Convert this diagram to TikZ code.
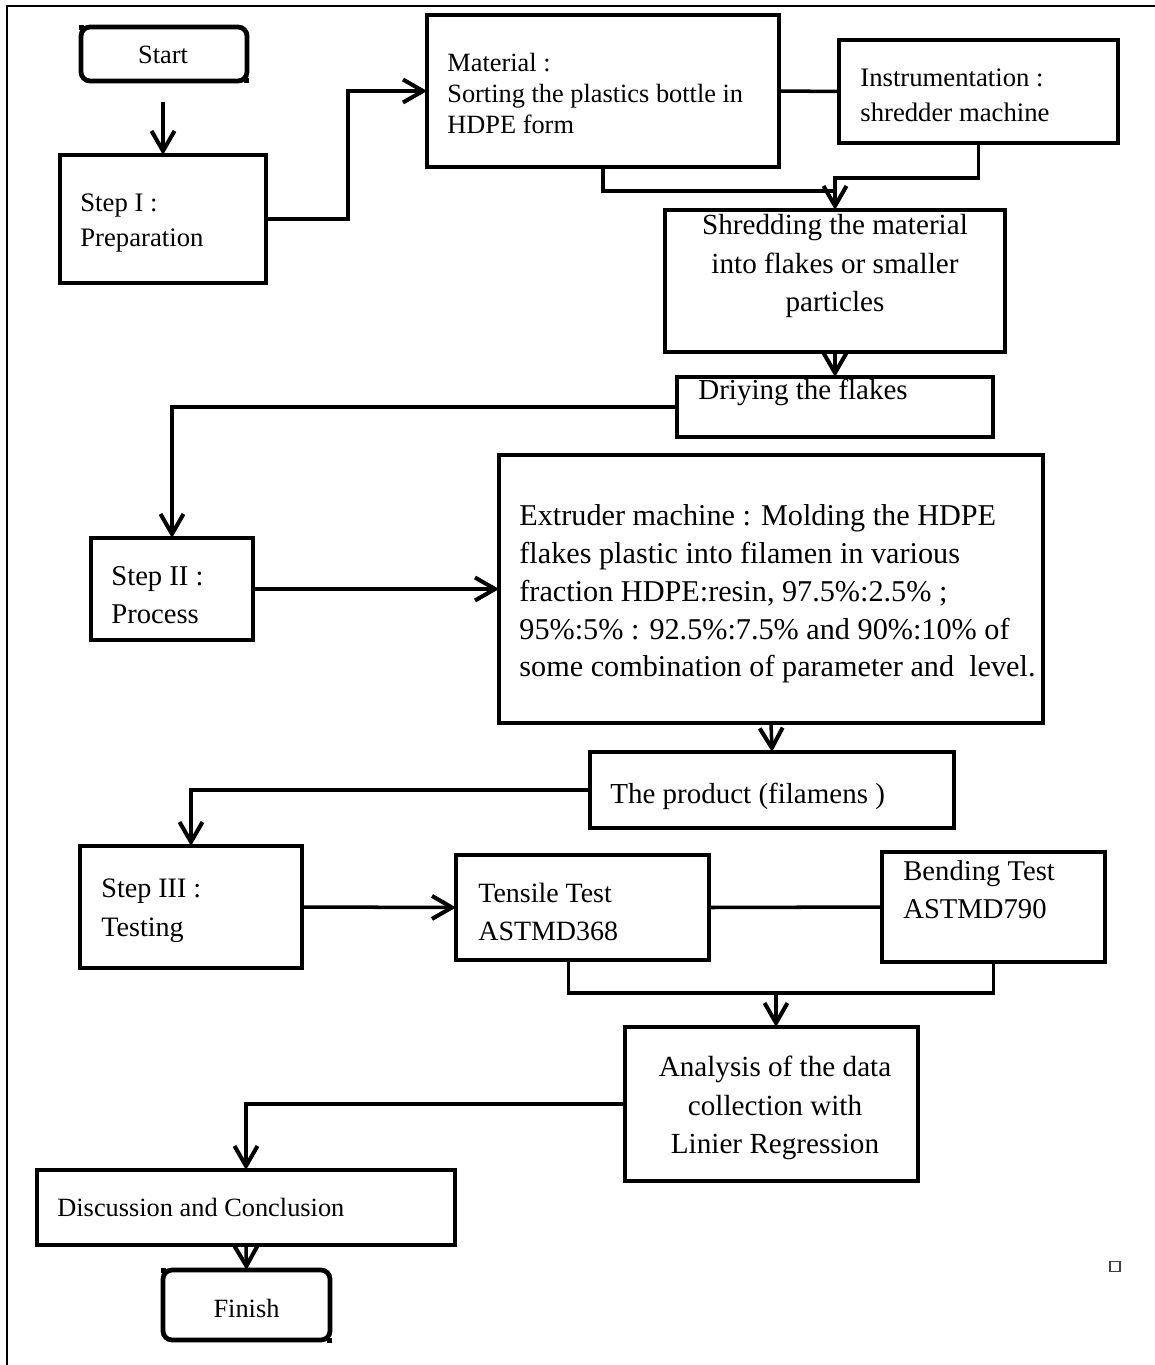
\documentclass[tikz,border=0pt]{standalone}
\usepackage{fontspec}
\setmainfont{Liberation Serif}
\usetikzlibrary{arrows.meta,calc}
\newcommand\setfs[2]{\fontsize{#1}{#2}\selectfont}
\tikzset{box/.style={draw,line width=2.7pt,inner sep=0pt,outer sep=0pt}}
\tikzset{term/.style={box,rounded corners=0.18cm}}
\tikzset{txt/.style={inner sep=0pt,align=left,anchor=west}}
\tikzset{ctxt/.style={inner sep=0pt,align=center}}
\tikzset{wire/.style={line width=2pt}}
\tikzset{flow/.style={wire,-{Straight Barb[length=0.4cm,width=0.46cm,line width=2.3pt]}}}

\begin{document}
\begin{tikzpicture}[x=0.02cm,y=-0.02cm]
    \useasboundingbox (0,0) rectangle (1154,1365);
    \draw [line width=1.2pt] (7,1370) -- (7,6) -- (1160,6);

    \node [term,minimum width=3.32cm,minimum height=1.08cm] (start) at (164,54) {};
    \node [box,minimum width=4.12cm,minimum height=2.56cm] (prep) at (163,219) {};
    \node [box,minimum width=7.04cm,minimum height=3.04cm] (mat) at (603,91) {};
    \node [box,minimum width=5.58cm,minimum height=2.06cm] (instr) at (978.5,91.5) {};
    \node [box,minimum width=6.8cm,minimum height=2.84cm] (shred) at (835,281) {};
    \node [box,minimum width=6.32cm,minimum height=1.2cm] (dry) at (835,407) {};
    \node [box,minimum width=3.24cm,minimum height=2.04cm] (proc) at (172,589) {};
    \node [box,minimum width=10.88cm,minimum height=5.36cm] (extr) at (771,589) {};
    \node [box,minimum width=7.28cm,minimum height=1.52cm] (prod) at (772,790) {};
    \node [box,minimum width=4.44cm,minimum height=2.44cm] (test) at (191,907) {};
    \node [box,minimum width=5.06cm,minimum height=2.1cm] (tens) at (582.5,907.5) {};
    \node [box,minimum width=4.46cm,minimum height=2.2cm] (bend) at (993.5,907) {};
    \node [box,minimum width=5.86cm,minimum height=3.08cm] (anal) at (771.5,1104) {};
    \node [box,minimum width=8.36cm,minimum height=1.5cm] (disc) at (246,1207.5) {};
    \node [term,minimum width=3.34cm,minimum height=1.4cm] (fin) at (246.5,1305) {};
    \node [draw,line width=0.6pt,draw=black!75,minimum size=0.2cm,inner sep=0pt] (mark) at (1115,1266.5) {};

    \fill ($(start.north west)+(-2.5,-2.5)$) rectangle ++(5,5);
    \fill ($(start.south east)+(-2.5,-2.5)$) rectangle ++(5,5);
    \fill ($(fin.north west)+(-2.5,-2.5)$) rectangle ++(5,5);
    \fill ($(fin.south east)+(-2.5,-2.5)$) rectangle ++(5,5);

    \node [ctxt,font=\setfs{15}{18}] (start-t) at ($(start.center)+(-1,1)$) {Start};
    \node [txt,font=\setfs{15.2}{19.8}] (prep-t) at ($(prep.west)+(20,4)$) {Step I :\\Preparation};
    \node [txt,font=\setfs{15}{17.6}] (mat-t) at ($(mat.west)+(20,2.5)$) {Material :\\Sorting the plastics bottle in\\HDPE form};
    \node [txt,font=\setfs{15.2}{19.8}] (instr-t) at ($(instr.west)+(21,4)$) {Instrumentation :\\shredder machine};
    \node [ctxt,font=\setfs{16.6}{22.1}] (shred-t) at ($(shred.center)+(0,-15)$) {Shredding the material\\into flakes or smaller\\particles};
    \node [txt,font=\setfs{16.5}{20}] (dry-t) at ($(dry.west)+(21,-15)$) {Driying the flakes};
    \node [txt,font=\setfs{16.3}{21.5}] (proc-t) at ($(proc.west)+(20,6)$) {Step II :\\Process};
    \node [txt,font=\setfs{17.2}{21.5}] (extr-t) at ($(extr.west)+(20,5)$) {Extruder machine : Molding the HDPE\\flakes plastic into filamen in various\\fraction HDPE:resin, 97.5\%:2.5\% ;\\95\%:5\% : 92.5\%:7.5\% and 90\%:10\% of\\some combination of parameter and \ level.};
    \node [txt,font=\setfs{16.5}{20}] (prod-t) at ($(prod.west)+(20,6)$) {The product (filamens )};
    \node [txt,font=\setfs{16}{22.1}] (test-t) at ($(test.west)+(21,3.5)$) {Step III :\\Testing};
    \node [txt,font=\setfs{15.9}{21.5}] (tens-t) at ($(tens.west)+(22,4.5)$) {Tensile Test\\ASTMD368};
    \node [txt,font=\setfs{16.3}{21.5}] (bend-t) at ($(bend.west)+(21,-17)$) {Bending Test\\ASTMD790};
    \node [ctxt,font=\setfs{16.6}{22.1}] (anal-t) at ($(anal.center)+(3.5,4)$) {Analysis of the data\\collection with\\Linier Regression};
    \node [txt,font=\setfs{15}{18}] (disc-t) at ($(disc.west)+(20,0)$) {Discussion and Conclusion};
    \node [ctxt,font=\setfs{15}{18}] (fin-t) at ($(fin.center)+(0,3)$) {Finish};

    \draw [flow] ($(start.south)+(-1,21)$) -- (prep.north);
    \draw [flow] (prep.east) -- ++(82,0) |- (mat.west);
    \draw [wire] (mat.east) -- (instr.west);
    \draw [flow] (instr.south) -- ++(0,35) -| (shred.north);
    \draw [wire] (mat.south) |- ($(shred.north)+(0,-19)$);
    \draw [flow] (shred.south) -- (dry.north);
    \draw [flow] (dry.west) -| (proc.north);
    \draw [flow] (proc.east) -- (extr.west);
    \draw [flow] (extr.south) -- (prod.north);
    \draw [flow] (prod.west) -| (test.north);
    \draw [flow] (test.east) -- (tens.west);
    \draw [wire] (tens.east) -- (bend.west);
    \draw [wire] ($(tens.south)+(-14,0)$) -- ++(0,33) -| (bend.south);
    \draw [flow] ($(anal.north)+(4.5,-34)$) -- ($(anal.north)+(4.5,0)$);
    \draw [flow] (anal.west) -| (disc.north);
    \draw [flow] (disc.south) -- (fin.north);
\end{tikzpicture}
\end{document}
